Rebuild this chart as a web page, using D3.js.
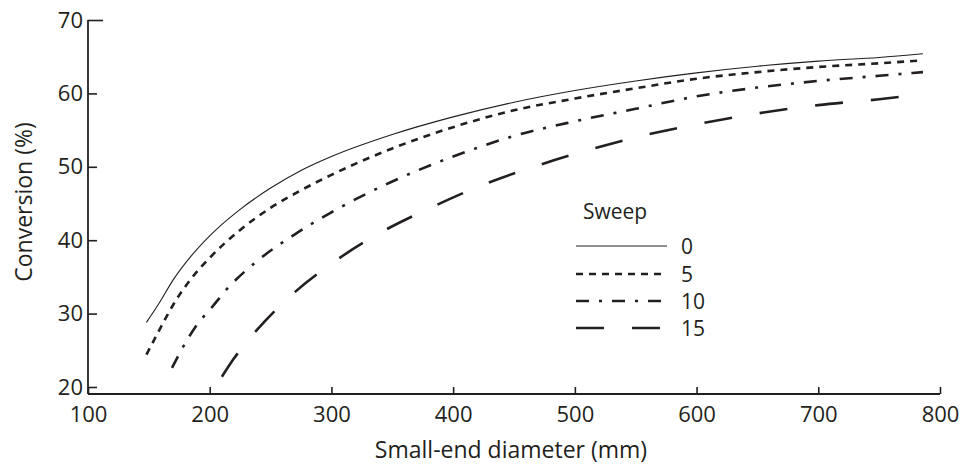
<!DOCTYPE html>
<html>
<head>
<meta charset="utf-8">
<script src="https://cdn.jsdelivr.net/npm/d3@7"></script>
<style>
  html, body { margin: 0; padding: 0; background: #fff; }
  svg { display: block; font-family: "Open Sans", sans-serif; }
</style>
</head>
<body>
<svg id="chart" width="965" height="467"></svg>
<script>
// Conversion (%) against small-end diameter (mm) for four sweep values
const sweeps = [0, 5, 10, 15];

const diam0 = [148, 158, 170, 185, 200, 225, 250, 275, 300, 350, 400, 450, 500, 550, 600, 650, 700, 750, 786];
const conv0 = [28.8, 31.3, 34.6, 37.9, 40.6, 44.2, 47.1, 49.5, 51.4, 54.4, 56.8, 58.8, 60.4, 61.7, 62.8, 63.7, 64.4, 64.9, 65.4];

const diam5 = [148, 160, 170, 185, 200, 225, 250, 275, 300, 350, 400, 450, 500, 550, 600, 650, 700, 750, 786];
const conv5 = [24.4, 28.2, 31.2, 34.8, 37.6, 41.4, 44.4, 46.8, 48.9, 52.5, 55.4, 57.7, 59.3, 60.7, 62.0, 62.9, 63.6, 64.1, 64.5];

const diam10 = [169, 180, 190, 200, 215, 240, 270, 300, 350, 400, 450, 500, 550, 600, 650, 700, 750, 786];
const conv10 = [22.6, 26.0, 28.6, 30.5, 33.5, 37.3, 40.8, 43.8, 48.0, 51.4, 54.2, 56.2, 57.9, 59.6, 60.8, 61.7, 62.4, 62.9];

const diam15 = [210, 220, 230, 245, 265, 300, 340, 380, 430, 470, 520, 560, 610, 655, 700, 750, 786];
const conv15 = [21.4, 23.9, 26.1, 28.9, 32.2, 36.8, 41.0, 44.3, 47.9, 50.2, 52.7, 54.4, 56.1, 57.4, 58.4, 59.2, 59.9];

const xTicks = [100, 200, 300, 400, 500, 600, 700, 800];
const yTicks = [20, 30, 40, 50, 60, 70];

const ink = "#231f20";
const svg = d3.select("#chart");

const x = d3.scaleLinear().domain([100, 800]).range([88, 940]);
const y = d3.scaleLinear().domain([20, 70]).range([387, 20]);
const xAxisY = 394;

// line styles per sweep
const styles = [
  { width: 1.1, dash: null },
  { width: 2.6, dash: "7,6" },
  { width: 2.6, dash: "13,10,3,10" },
  { width: 2.6, dash: "28,28" }
];

const series = [
  { sweep: sweeps[0], d: diam0, c: conv0 },
  { sweep: sweeps[1], d: diam5, c: conv5 },
  { sweep: sweeps[2], d: diam10, c: conv10 },
  { sweep: sweeps[3], d: diam15, c: conv15 }
];

const line = d3.line()
  .x(p => x(p[0]))
  .y(p => y(p[1]))
  .curve(d3.curveMonotoneX);

series.forEach((s, i) => {
  const pts = s.d.map((v, j) => [v, s.c[j]]);
  svg.append("path")
    .attr("d", line(pts))
    .attr("fill", "none")
    .attr("stroke", ink)
    .attr("stroke-width", styles[i].width)
    .attr("stroke-dasharray", styles[i].dash);
});

// axes
const xAxis = d3.axisBottom(x).tickValues(xTicks).tickSizeInner(-7).tickSizeOuter(0).tickPadding(0);
const gx = svg.append("g").attr("transform", `translate(0,${xAxisY})`).call(xAxis);
gx.select(".domain").remove();
gx.selectAll(".tick line").attr("stroke", ink).attr("stroke-width", 1.6);
gx.selectAll(".tick text")
  .attr("fill", ink).attr("font-size", 22).attr("font-family", "Open Sans")
  .attr("dy", null).attr("y", 28);

const yAxis = d3.axisLeft(y).tickValues(yTicks).tickSizeInner(-9).tickSizeOuter(0).tickPadding(5);
const gy = svg.append("g").attr("transform", `translate(${x(100)},0)`).call(yAxis);
gy.select(".domain").remove();
gy.selectAll(".tick line").attr("stroke", ink).attr("stroke-width", 1.6)
  .attr("x2", d => d === 70 ? 15 : 9);
gy.selectAll(".tick text")
  .attr("fill", ink).attr("font-size", 22).attr("font-family", "Open Sans");

svg.append("line")
  .attr("x1", x(100)).attr("x2", x(100))
  .attr("y1", y(70)).attr("y2", xAxisY)
  .attr("stroke", ink).attr("stroke-width", 1.8);
svg.append("line")
  .attr("x1", x(100)).attr("x2", x(800))
  .attr("y1", xAxisY).attr("y2", xAxisY)
  .attr("stroke", ink).attr("stroke-width", 1.8);

// axis titles
svg.append("text")
  .attr("x", 511).attr("y", 458)
  .attr("text-anchor", "middle")
  .attr("font-size", 23).attr("fill", ink)
  .text("Small-end diameter (mm)");

svg.append("text")
  .attr("transform", "translate(32,202) rotate(-90)")
  .attr("text-anchor", "middle")
  .attr("font-size", 23).attr("fill", ink)
  .text("Conversion (%)");

// legend
const legend = svg.append("g");
legend.append("text")
  .attr("x", 583).attr("y", 219)
  .attr("font-size", 21).attr("fill", ink)
  .text("Sweep");
const rowY = [246, 274, 301, 328];
sweeps.forEach((s, i) => {
  legend.append("line")
    .attr("x1", 576).attr("x2", 667)
    .attr("y1", rowY[i]).attr("y2", rowY[i])
    .attr("stroke", ink)
    .attr("stroke-width", styles[i].width)
    .attr("stroke-dasharray", styles[i].dash);
  legend.append("text")
    .attr("x", 681).attr("y", rowY[i])
    .attr("dy", "0.36em")
    .attr("font-size", 21).attr("fill", ink)
    .text(s);
});
</script>
</body>
</html>
